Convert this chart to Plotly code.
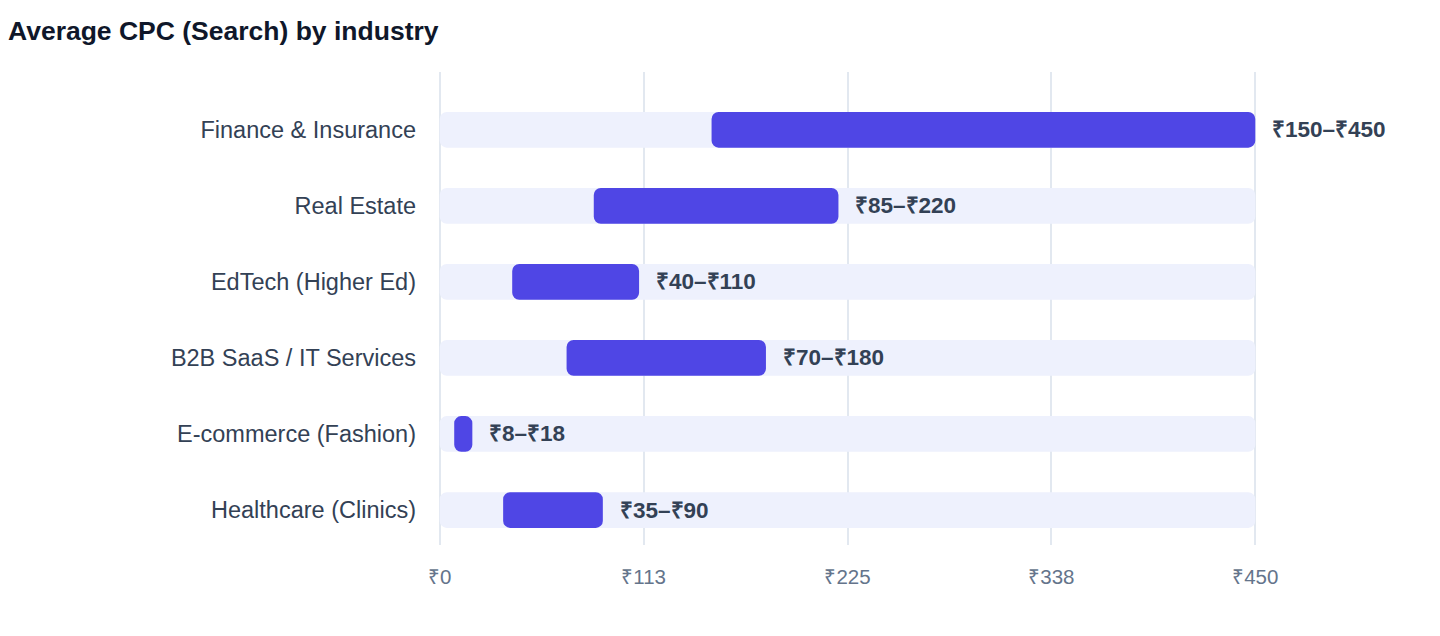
import plotly.graph_objects as go

# --- Datos (de abajo hacia arriba) ---
industrias = ["Healthcare (Clinics)", "E-commerce (Fashion)", "B2B SaaS / IT Services",
              "EdTech (Higher Ed)", "Real Estate", "Finance & Insurance"]
cpc_min = [35, 8, 70, 40, 85, 150]
cpc_max = [90, 18, 180, 110, 220, 450]
escala_max = 450
tick_vals = [0, 112.5, 225, 337.5, 450]
tick_text = ["₹0", "₹113", "₹225", "₹338", "₹450"]

FONT = "Helvetica, Arial, Liberation Sans, sans-serif"

fig = go.Figure()

# pista de fondo
fig.add_trace(go.Bar(
    y=industrias, x=[escala_max] * len(industrias), base=0,
    orientation="h", width=0.47,
    marker=dict(color="#EEF1FD", cornerradius=7, line=dict(width=0)),
    hoverinfo="skip", showlegend=False,
))

# rango min-max
fig.add_trace(go.Bar(
    y=industrias, x=[hi - lo for lo, hi in zip(cpc_min, cpc_max)], base=cpc_min,
    orientation="h", width=0.47,
    marker=dict(color="#4F46E5", cornerradius=7, line=dict(width=0)),
    showlegend=False,
))

for ind, lo, hi in zip(industrias, cpc_min, cpc_max):
    fig.add_annotation(
        x=hi, y=ind, text=f"<b>₹{lo}–₹{hi}</b>", showarrow=False,
        xanchor="left", xshift=15, font=dict(size=22.5, color="#334155", family=FONT),
    )

fig.update_layout(
    width=1440, height=636,
    barmode="overlay",
    plot_bgcolor="white", paper_bgcolor="white",
    margin=dict(l=429, r=190, t=64, b=99),
    title=dict(text="<b>Average CPC (Search) by industry</b>", x=0, xanchor="left",
               xref="container", y=0.964, yanchor="middle",
               font=dict(size=26.5, color="#0F172A", family=FONT)),
    xaxis=dict(range=[-1.5, escala_max + 1.5], tickvals=tick_vals, ticktext=tick_text,
               showgrid=True, gridcolor="#E2E8F0", gridwidth=2, zeroline=False, showline=False,
               tickfont=dict(size=20.5, color="#64748B", family=FONT), ticklabelstandoff=17),
    yaxis=dict(range=[-0.46, 5.76], showgrid=False, zeroline=False, showline=False,
               tickfont=dict(size=23.5, color="#334155", family=FONT), ticklabelstandoff=20),
)

fig.write_html("out.html")
